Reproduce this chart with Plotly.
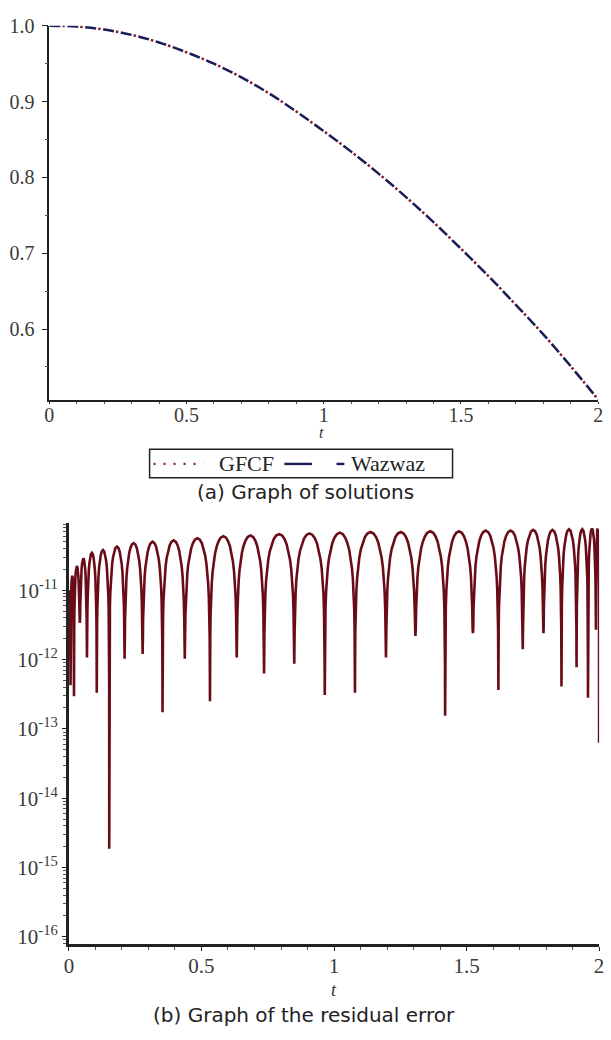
import plotly.graph_objects as go

# ---------------- (a) solutions ----------------
t_sol = [0.0, 0.1, 0.2, 0.3, 0.4, 0.5, 0.6, 0.7, 0.8, 0.9, 1.0,
         1.1, 1.2, 1.3, 1.4, 1.5, 1.6, 1.7, 1.8, 1.9, 2.0]
y_gfcf = [1.000, 0.999, 0.995, 0.988, 0.978, 0.965, 0.950, 0.932, 0.911, 0.887, 0.861,
          0.834, 0.805, 0.774, 0.741, 0.706, 0.670, 0.632, 0.593, 0.551, 0.507]
y_wazwaz = [1.000, 0.999, 0.995, 0.988, 0.978, 0.965, 0.950, 0.932, 0.911, 0.887, 0.861,
            0.834, 0.805, 0.774, 0.741, 0.706, 0.670, 0.632, 0.593, 0.551, 0.507]
legend_names = ["GFCF", "Wazwaz"]

# ---------------- (b) residual error (log10 values) ----------------
dip_t = [0.000, 0.006, 0.019, 0.041, 0.068, 0.105, 0.152, 0.210, 0.278, 0.353,
         0.437, 0.532, 0.633, 0.736, 0.850, 0.965, 1.079, 1.196, 1.307, 1.419,
         1.524, 1.620, 1.712, 1.790, 1.858, 1.915, 1.958, 1.988, 2.000]
dip_log = [-12.0, -12.37, -12.53, -11.47, -11.97, -12.48, -14.73, -11.99, -11.92, -12.76,
           -11.99, -12.60, -11.97, -12.20, -12.06, -12.51, -12.48, -11.97, -11.66, -12.81,
           -11.62, -12.44, -11.85, -11.62, -12.39, -12.11, -12.55, -11.57, -13.20]
peak_log = [-11.00, -10.79, -10.65, -10.54, -10.46, -10.42, -10.37, -10.32, -10.30, -10.28,
            -10.25, -10.22, -10.21, -10.19, -10.18, -10.17, -10.16, -10.16, -10.15, -10.15,
            -10.14, -10.14, -10.13, -10.13, -10.12, -10.12, -10.11, -10.11]
# shape of one arch (fraction of arch width, decades below its peak)
arch_u = [0.004, 0.012, 0.025, 0.045, 0.07, 0.10, 0.14, 0.19, 0.25, 0.32, 0.40, 0.50]
arch_drop = [-1.90, -1.42, -1.105, -0.851, -0.661, -0.510, -0.371, -0.250, -0.151, -0.0735, -0.0218, 0.0]

res_t, res_v = [], []
for i in range(len(peak_log)):
    a, b = dip_t[i], dip_t[i + 1]
    w = b - a
    res_t.append(a)
    res_v.append(10 ** dip_log[i])
    prof = list(zip(arch_u, arch_drop)) + [(1 - u, d) for u, d in reversed(list(zip(arch_u[:-1], arch_drop[:-1])))]
    for u, d in prof:
        lv = peak_log[i] + d
        near = dip_log[i] if u < 0.5 else dip_log[i + 1]
        if lv <= near:
            continue
        res_t.append(a + u * w)
        res_v.append(10 ** lv)
res_t.append(dip_t[-1])
res_v.append(10 ** dip_log[-1])

serif = "Liberation Serif"
RED = "#8b1a2b"
NAVY = "#1a1d55"
GFCF_DASH = "0px,13px,2.5px,2.5px"
WAZ_DASH = "11px,7px"

fig = go.Figure()
fig.add_trace(go.Scatter(x=t_sol, y=y_gfcf, mode="lines", name=legend_names[0], showlegend=False,
                         line=dict(color=RED, width=2.5, dash=GFCF_DASH, shape="spline"),
                         xaxis="x", yaxis="y"))
fig.add_trace(go.Scatter(x=t_sol, y=y_wazwaz, mode="lines", name=legend_names[1], showlegend=False,
                         line=dict(color=NAVY, width=2.5, dash=WAZ_DASH, shape="spline"),
                         xaxis="x", yaxis="y"))
fig.add_trace(go.Scatter(x=res_t, y=res_v, mode="lines", showlegend=False,
                         line=dict(color="#6a0c18", width=2.6),
                         xaxis="x2", yaxis="y2"))

axis_common = dict(showgrid=False, zeroline=False, showline=True, linecolor="#222",
                   ticks="outside", tickcolor="#222",
                   tickfont=dict(family=serif, size=20, color="#3a3a3a"))

W, H = 611, 1040


def px(x):
    return x / W


def py(y):
    return 1 - y / H


# manual legend (box, line samples, labels)
shapes = [
    dict(type="rect", xref="paper", yref="paper", x0=px(147), x1=px(455), y0=py(445), y1=py(474),
         line=dict(color="#222", width=1.5), fillcolor="white", layer="above"),
    dict(type="line", xref="paper", yref="paper", x0=px(151), x1=px(202), y0=py(460), y1=py(460),
         line=dict(color=RED, width=2.2, dash="2px,8px"), layer="above"),
    dict(type="line", xref="paper", yref="paper", x0=px(284), x1=px(312), y0=py(460), y1=py(460),
         line=dict(color=NAVY, width=2.4), layer="above"),
    dict(type="line", xref="paper", yref="paper", x0=px(337), x1=px(345), y0=py(460), y1=py(460),
         line=dict(color=NAVY, width=2.4), layer="above"),
]

annotations = [
    dict(text=legend_names[0], x=px(216), y=py(460), xanchor="left", yanchor="middle",
         xref="paper", yref="paper", showarrow=False, font=dict(family=serif, size=22, color="#222")),
    dict(text=legend_names[1], x=px(350), y=py(460), xanchor="left", yanchor="middle",
         xref="paper", yref="paper", showarrow=False, font=dict(family=serif, size=22, color="#222")),
    dict(text="<i>t</i>", x=px(322), y=py(428), xref="paper", yref="paper", yanchor="middle",
         showarrow=False, font=dict(family=serif, size=16, color="#333")),
    dict(text="<i>t</i>", x=px(334), y=py(994), xref="paper", yref="paper", yanchor="middle",
         showarrow=False, font=dict(family=serif, size=18, color="#333")),
    dict(text="(a) Graph of solutions", x=px(306), y=py(489), xref="paper", yref="paper",
         yanchor="middle", showarrow=False, font=dict(family="DejaVu Sans", size=20, color="#222")),
    dict(text="(b) Graph of the residual error", x=px(304), y=py(1020), xref="paper",
         yref="paper", yanchor="middle", showarrow=False,
         font=dict(family="DejaVu Sans", size=20, color="#222")),
]

fig.update_layout(
    width=W, height=H, margin=dict(l=0, r=0, t=0, b=0),
    paper_bgcolor="white", plot_bgcolor="white", showlegend=False,
    xaxis=dict(axis_common, domain=[px(45), px(603)], range=[0, 2], anchor="y",
               dtick=0.5, tick0=0, linewidth=1.5, ticklen=2, ticklabelstandoff=-6,
               minor=dict(dtick=0.1, ticks="outside", ticklen=2, tickcolor="#555")),
    yaxis=dict(axis_common, domain=[py(395), py(15)], range=[0.5065, 1.0], anchor="x",
               dtick=0.1, tick0=0, tickformat=".1f", linewidth=1.5, ticklen=6,
               ticklabelstandoff=3,
               minor=dict(dtick=0.05, ticks="outside", ticklen=3, tickcolor="#555")),
    xaxis2=dict(axis_common, domain=[px(65), px(604)], range=[0, 2], anchor="y2",
                dtick=0.5, tick0=0, linewidth=2.6, ticklen=4, ticklabelstandoff=-3,
                tickfont=dict(family=serif, size=21, color="#3a3a3a"),
                minor=dict(dtick=0.1, ticks="outside", ticklen=3, tickcolor="#555")),
    yaxis2=dict(axis_common, type="log", domain=[py(948), py(520)], range=[-16.11, -10.03],
                anchor="x2", linewidth=2.6, ticklen=4,
                tickvals=[1e-16, 1e-15, 1e-14, 1e-13, 1e-12, 1e-11],
                ticktext=["10<sup>-16</sup>", "10<sup>-15</sup>", "10<sup>-14</sup>",
                          "10<sup>-13</sup>", "10<sup>-12</sup>", "10<sup>-11</sup>"],
                tickfont=dict(family=serif, size=21, color="#3a3a3a"),
                minor=dict(dtick="D1", ticks="outside", ticklen=3, tickcolor="#555")),
    shapes=shapes,
    annotations=annotations,
)

fig.write_html("out.html")
